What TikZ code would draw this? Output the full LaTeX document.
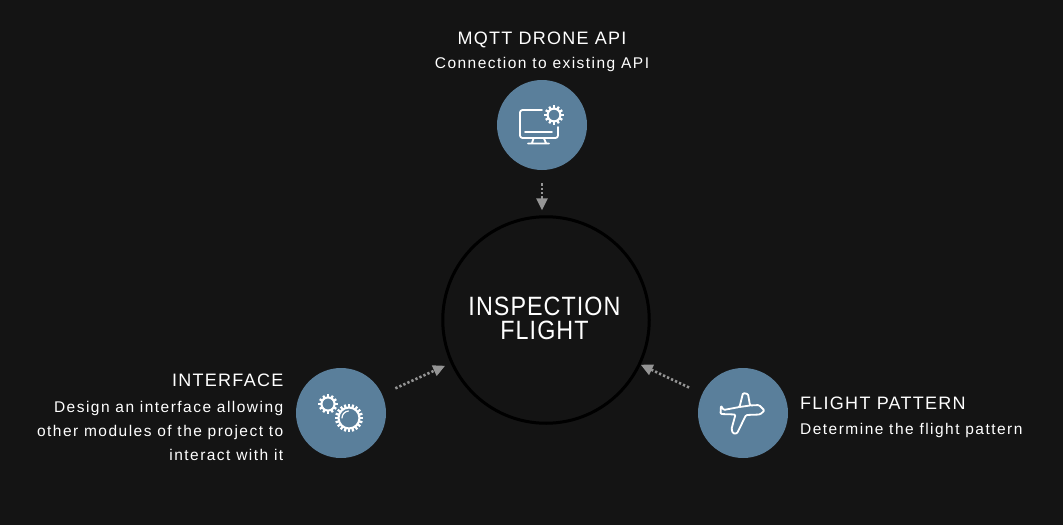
\documentclass[tikz,border=0pt]{standalone}
\usepackage{fontspec}
\setmainfont{Liberation Sans}
\newfontfamily\headfont[LetterSpace=7]{Liberation Sans}
\newfontfamily\descfont[LetterSpace=9.5]{Liberation Sans}
\newfontfamily\hubfont[LetterSpace=4,FakeStretch=0.88]{Liberation Sans}
\usetikzlibrary{arrows.meta}
\definecolor{bgdark}{HTML}{141414}
\definecolor{disc}{HTML}{5A7F9B}
\definecolor{linkgrey}{HTML}{959595}
\tikzset{
  disc/.style={circle,fill=disc,minimum size=90pt,inner sep=0pt},
  hub/.style={circle,draw=black,line width=3pt,minimum size=206.5pt,inner sep=0pt},
  hubtext/.style={text=white,inner sep=0pt,align=center,font=\hubfont\fontsize{26.5}{24}\selectfont},
  head/.style={text=white,inner sep=0pt,font=\headfont\fontsize{18}{18}\selectfont},
  desc/.style={text=white,inner sep=0pt,font=\descfont\fontsize{15.5}{25}\selectfont},
  link/.style={draw=linkgrey,line width=2.6pt,dash pattern=on 2.3pt off 2.1pt,-{Triangle[length=12pt,width=11pt,fill=linkgrey]}},
  icon/.style={draw=white,line width=1.8pt,line join=round,line cap=round},
  teeth/.style={draw=white,line width=2.2pt}
}
\newcommand{\gearicon}[5]{% cx cy r tooth-outer n
  \draw[icon,line width=2.1pt] (#1,#2) circle[radius=#3];
  \foreach \a in {1,...,#5}
    \draw[teeth] ({#1+#3*cos(\a*360/#5)},{#2+#3*sin(\a*360/#5)}) -- ({#1+#4*cos(\a*360/#5)},{#2+#4*sin(\a*360/#5)});
}
\begin{document}
\begin{tikzpicture}[x=1pt,y=-1pt]
\useasboundingbox (0,0) rectangle (1063,525);
\fill[bgdark] (0,0) rectangle (1063,525);
\node[hub] (centre) at (546,320) {};
\node[hubtext] (centrelabel) at (544.5,318.5) {INSPECTION\\FLIGHT};
\node[disc] (api) at (542,125) {};
\node[disc] (iface) at (341,413) {};
\node[disc] (pattern) at (743,413) {};
% labels
\node[head,anchor=base] (apihead) at (542,44.5) {MQTT DRONE API};
\node[desc,anchor=base] (apidesc) at (542,68) {Connection to existing API};
\node[head,anchor=base east] (ifacehead) at (283.5,386.5) {INTERFACE};
\node[desc,anchor=base east] (ifaced1) at (283.5,412) {Design an interface allowing};
\node[desc,anchor=base east] (ifaced2) at (283.5,436) {other modules of the project to};
\node[desc,anchor=base east] (ifaced3) at (283.5,460) {interact with it};
\node[head,anchor=base west] (pathead) at (800,409.5) {FLIGHT PATTERN};
\node[desc,anchor=base west] (patdesc) at (800,434) {Determine the flight pattern};
% connectors
\draw[link,shorten <=13pt,shorten >=5pt] (api.south) -- (api.south |- centre.north);
\draw[link,shorten <=14.5pt,shorten >=6pt] (iface) -- (centre);
\draw[link,shorten <=14.5pt,shorten >=0pt] (pattern) -- (centre);
% monitor icon
\draw[icon,rounded corners=2.5pt] (542,110) -- (520,110) -- (520,138) -- (558,138) -- (558,127);
\draw[icon] (525,132) -- (552,132);
\draw[icon] (533.5,138.5) -- (532,143) (544,138.5) -- (546,143) (528,143.5) -- (549,143.5);
\gearicon{554}{115}{6.4}{9.6}{12}
% gears icon
\gearicon{328}{404}{6.6}{9.6}{12}
\gearicon{349}{418}{10.5}{14}{20}
\draw[icon,line width=1.2pt] (342,418) arc[start angle=180,end angle=265,radius=7];
% plane icon
\draw[icon,rounded corners=1.2pt] (721,405.5) -- (720.5,414) -- (735.5,414.5) -- (731.5,429) -- (733,433.5) -- (737,433.5) -- (746,415) -- (760,414.5) -- (764.5,410.5) -- (759,405) -- (750,405.5) -- (748,394) -- (743,393) -- (739.5,407) -- (723.5,410) -- cycle;
\draw[icon] (739.5,407) -- (750,405.5);
\end{tikzpicture}
\end{document}
